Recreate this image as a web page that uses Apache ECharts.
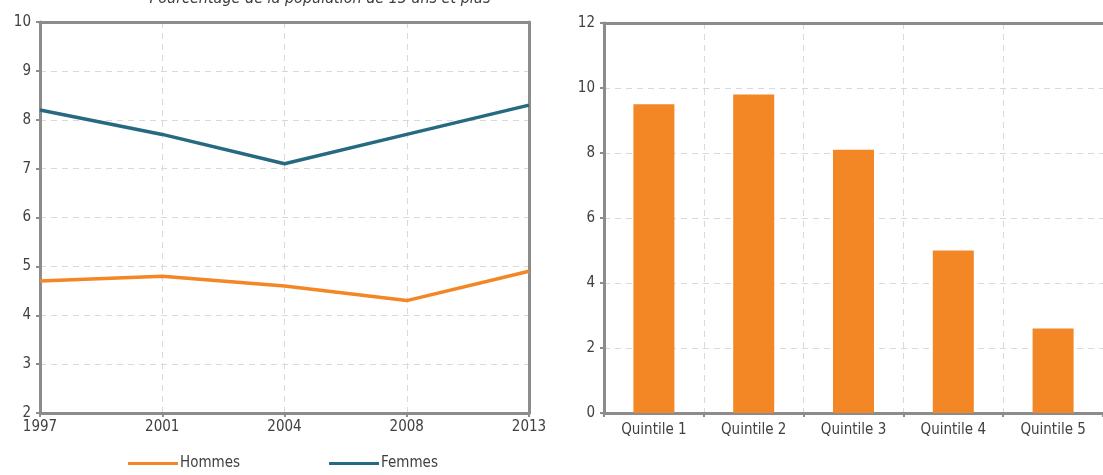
<!DOCTYPE html>
<html><head><meta charset="utf-8">
<script src="https://cdn.jsdelivr.net/npm/echarts@6/dist/echarts.min.js"></script>
<style>html,body{margin:0;padding:0;background:#fff}#c{width:1103px;height:475px}</style>
</head><body><div id="c"></div>
<script>
const titleText = 'Pourcentage de la population de 15 ans et plus';
const years = ['1997', '2001', '2004', '2008', '2013'];
const hommes = [4.7, 4.8, 4.6, 4.3, 4.9];
const femmes = [8.2, 7.7, 7.1, 7.7, 8.3];
const quintiles = ['Quintile 1', 'Quintile 2', 'Quintile 3', 'Quintile 4', 'Quintile 5'];
const quintileValues = [9.5, 9.8, 8.1, 5.0, 2.6];

const ORANGE = '#f38625', TEAL = '#266a82', AXIS = '#8c8c8c', GRID = '#d9d9d9', TXT = '#404040';
const FONT = '"DejaVu Sans Condensed", "DejaVu Sans"';
const lbl = {color: TXT, fontSize: 15, fontFamily: FONT};
const dashed = {show: true, lineStyle: {color: GRID, type: [6, 5], width: 1}};
const axLine = {show: true, lineStyle: {color: AXIS, width: 3}};
const tick = {show: true, length: 4, lineStyle: {color: AXIS, width: 2}};
const borderOnly = {axisLine: axLine, axisTick: {show: false}, axisLabel: {show: false}, splitLine: {show: false}};

const chart = echarts.init(document.getElementById('c'), null, {renderer: 'canvas'});
chart.setOption({
  animation: false,
  graphic: [{type: 'text', x: 320, y: -9, style: {text: titleText, font: 'italic 16px ' + FONT, fill: TXT, align: 'center', verticalAlign: 'top'}}],
  legend: {
    bottom: -1, left: 123, itemWidth: 50, itemHeight: 3, itemGap: 89, icon: 'rect',
    textStyle: {color: TXT, fontSize: 15, fontFamily: FONT, padding: [0, 0, 0, -3]},
    data: ['Hommes', 'Femmes']
  },
  grid: [
    {left: 40, width: 489, top: 22, bottom: 62},
    {left: 604, width: 505, top: 23, bottom: 62}
  ],
  xAxis: [
    {type: 'category', gridIndex: 0, data: years, boundaryGap: false, axisLine: axLine, axisTick: tick,
     axisLabel: Object.assign({margin: 7}, lbl), splitLine: dashed},
    {type: 'category', gridIndex: 1, data: quintiles, boundaryGap: true, axisLine: axLine, axisTick: tick,
     axisLabel: Object.assign({margin: 10}, lbl), splitLine: dashed},
    Object.assign({type: 'category', gridIndex: 0, position: 'top', data: years, boundaryGap: false}, borderOnly),
    Object.assign({type: 'category', gridIndex: 1, position: 'top', data: quintiles}, borderOnly)
  ],
  yAxis: [
    {type: 'value', gridIndex: 0, min: 2, max: 10, interval: 1, axisLine: axLine, axisTick: tick,
     axisLabel: Object.assign({margin: 9}, lbl), splitLine: dashed},
    {type: 'value', gridIndex: 1, min: 0, max: 12, interval: 2, axisLine: axLine, axisTick: tick,
     axisLabel: Object.assign({margin: 9}, lbl), splitLine: dashed},
    Object.assign({type: 'value', gridIndex: 0, position: 'right', min: 2, max: 10, interval: 1}, borderOnly)
  ],
  series: [
    {name: 'Hommes', type: 'line', xAxisIndex: 0, yAxisIndex: 0, data: hommes, symbol: 'none',
     lineStyle: {color: ORANGE, width: 3.5}, itemStyle: {color: ORANGE}},
    {name: 'Femmes', type: 'line', xAxisIndex: 0, yAxisIndex: 0, data: femmes, symbol: 'none',
     lineStyle: {color: TEAL, width: 3.5}, itemStyle: {color: TEAL}},
    {name: 'Quintiles', type: 'bar', xAxisIndex: 1, yAxisIndex: 1, data: quintileValues, barWidth: 41,
     itemStyle: {color: ORANGE}}
  ]
});
</script></body></html>
